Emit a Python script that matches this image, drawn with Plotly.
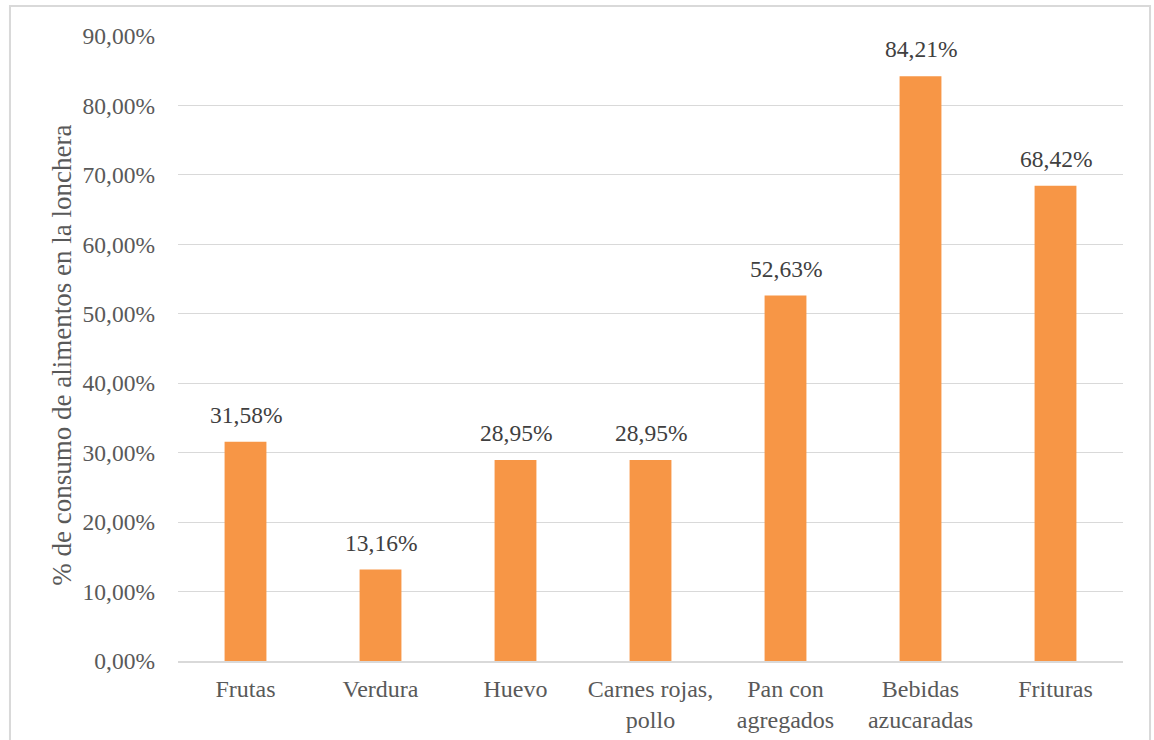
import plotly.graph_objects as go

categories = ["Frutas", "Verdura", "Huevo", "Carnes rojas,<br>pollo",
              "Pan con<br>agregados", "Bebidas<br>azucaradas", "Frituras"]
values = [0.3158, 0.1316, 0.2895, 0.2895, 0.5263, 0.8421, 0.6842]
y_title = "% de consumo de alimentos en la lonchera"

FONT = "Liberation Serif, Times New Roman, serif"
GREY = "#595959"


def pct(v):
    return f"{v * 100:.2f}%".replace(".", ",")


fig = go.Figure(go.Bar(
    x=categories,
    y=values,
    width=0.31,
    marker=dict(color="#F79646", line=dict(width=0)),
    hoverinfo="skip",
))

# value labels above each bar
for cat, v in zip(categories, values):
    fig.add_annotation(
        x=cat, y=v, text=pct(v), showarrow=False,
        xanchor="center", yanchor="bottom", yshift=13, borderpad=0,
        font=dict(family=FONT, size=23.5, color="#404040"),
    )

# rotated axis title
fig.add_annotation(
    xref="paper", yref="paper", x=-0.1228, y=0.49,
    text=y_title, textangle=-90, showarrow=False,
    xanchor="center", yanchor="middle",
    font=dict(family=FONT, size=27, color=GREY),
)

fig.update_layout(
    width=1154, height=740,
    margin=dict(l=178, r=31, t=36, b=79),
    paper_bgcolor="white", plot_bgcolor="white",
    separators=",.",
    showlegend=False,
    font=dict(family=FONT, size=24, color=GREY),
    yaxis=dict(
        range=[0, 0.9], dtick=0.1, tickformat=".2%",
        showgrid=True, gridcolor="#D9D9D9", gridwidth=1.3,
        zeroline=False, showline=False, ticks="",
        ticklabelstandoff=22, automargin=False,
        tickfont=dict(family=FONT, size=23.5, color=GREY),
    ),
    xaxis=dict(
        showline=True, linecolor="#D9D9D9", linewidth=1.5,
        ticks="", showgrid=False, ticklabelstandoff=5, automargin=False,
        tickfont=dict(family=FONT, size=24, color=GREY),
    ),
    shapes=[dict(
        type="rect", xref="paper", yref="paper",
        x0=-0.1778, x1=1.0286, y0=-0.14, y1=1.048,
        line=dict(color="#D9D9D9", width=2), fillcolor="rgba(0,0,0,0)",
        layer="below",
    )],
)

fig.write_html("out.html")
